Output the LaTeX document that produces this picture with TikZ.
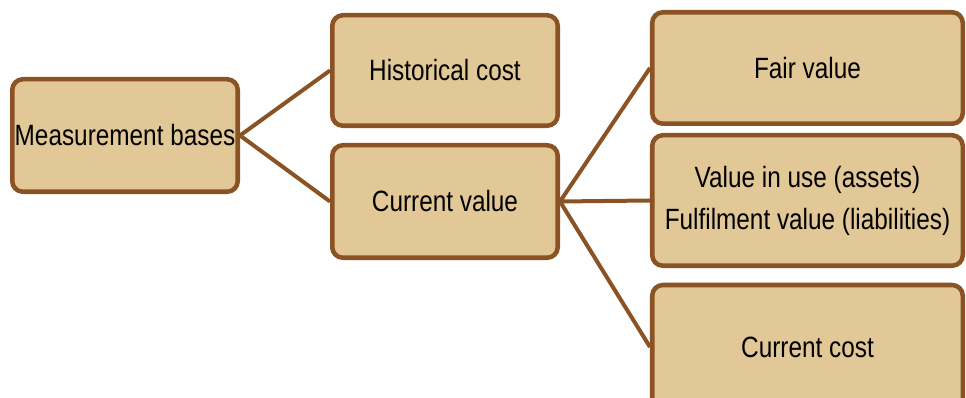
\documentclass[tikz,border=0pt]{standalone}
\usepackage{fontspec}
\setmainfont{Liberation Sans}[FakeStretch=0.83]
\usepackage{tikz}

\definecolor{boxfill}{RGB}{226,200,151}
\definecolor{boxline}{RGB}{139,82,36}

\tikzset{
  basebox/.style={draw=boxline, fill=boxfill, line width=3.4pt, rounded corners=8pt,
    inner sep=0pt, align=center, font=\fontsize{22}{31.5}\selectfont},
  branch/.style={draw=boxline, line width=3pt}
}

\begin{document}
\begin{tikzpicture}[x=0.75pt,y=0.75pt,yscale=-1,xscale=1]
\useasboundingbox (0,0) rectangle (966,398);
    % Boxes
    \node (mb) [basebox, minimum width=169.1pt, minimum height=84.4pt] at (125,135.5) {Measurement bases};
    \node (hc) [basebox, minimum width=169.1pt, minimum height=82.9pt] at (445,70.5) {Historical cost};
    \node (cv) [basebox, minimum width=169.1pt, minimum height=84.4pt] at (445,201.5) {Current value};
    \node (fv) [basebox, minimum width=232.9pt, minimum height=83.6pt] at (807.5,68) {Fair value};
    \node (vu) [basebox, minimum width=232.9pt, minimum height=97.9pt] at (807.5,200.5) {Value in use (assets)\\Fulfilment value (liabilities)};
    \node (cc) [basebox, minimum width=232.9pt, minimum height=93pt] at (807.5,347) {Current cost};

    % Branches
    \draw [branch] (mb.east) -- (hc.west);
    \draw [branch] (mb.east) -- (cv.west);
    \draw [branch] (cv.east) -- (fv.west);
    \draw [branch] (cv.east) -- (vu.west);
    \draw [branch] (cv.east) -- (cc.west);
\end{tikzpicture}
\end{document}
